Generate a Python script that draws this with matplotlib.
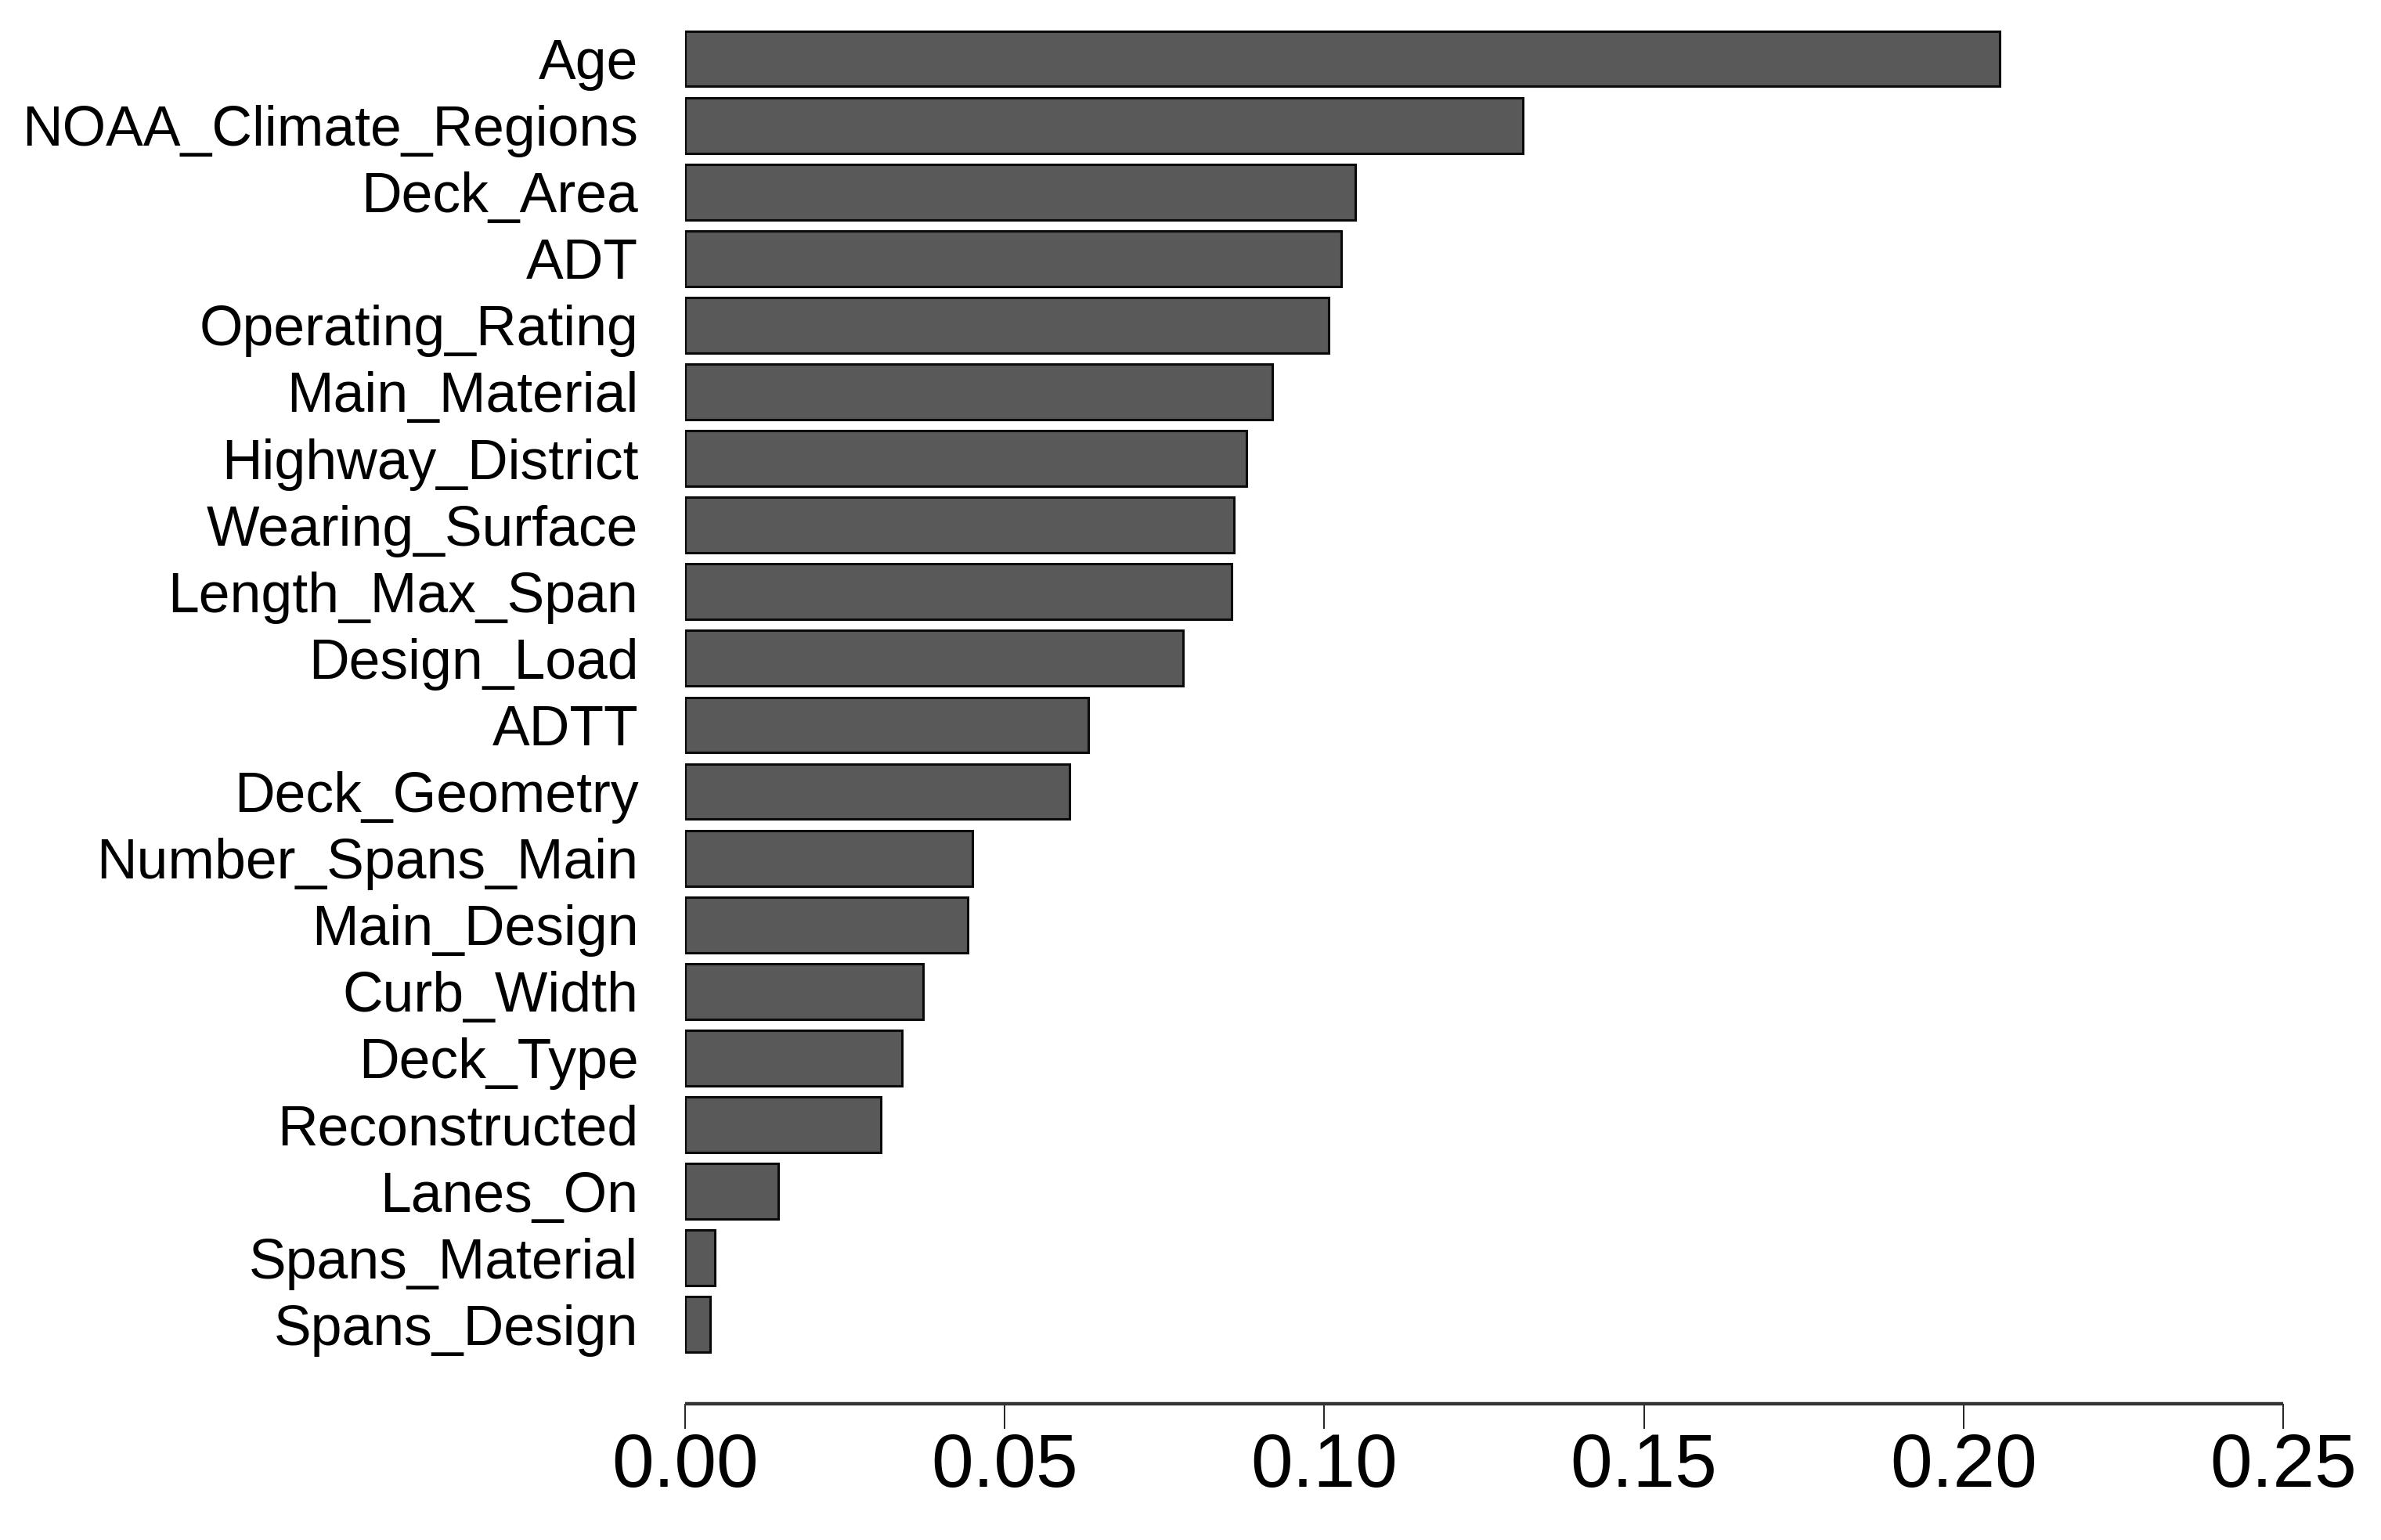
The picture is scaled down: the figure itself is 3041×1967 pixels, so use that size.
import matplotlib
matplotlib.use("Agg")
import matplotlib.pyplot as plt

features = ["Age", "NOAA_Climate_Regions", "Deck_Area", "ADT", "Operating_Rating",
            "Main_Material", "Highway_District", "Wearing_Surface", "Length_Max_Span",
            "Design_Load", "ADTT", "Deck_Geometry", "Number_Spans_Main", "Main_Design",
            "Curb_Width", "Deck_Type", "Reconstructed", "Lanes_On", "Spans_Material",
            "Spans_Design"]
importance = [0.2057, 0.1311, 0.1049, 0.1026, 0.1007, 0.0919, 0.0878, 0.0859, 0.0855,
              0.0779, 0.0631, 0.0601, 0.0450, 0.0442, 0.0372, 0.0339, 0.0306, 0.0146,
              0.0047, 0.0039]
xticks = [0.00, 0.05, 0.10, 0.15, 0.20, 0.25]
xtick_labels = ["0.00", "0.05", "0.10", "0.15", "0.20", "0.25"]

plt.rcParams['font.family'] = ['Liberation Sans', 'DejaVu Sans']

W, H = 3041, 1967
fig = plt.figure(figsize=(W / 100, H / 100), dpi=100)
left = 875 / W
right = 2916 / W
bottom = 1 - 1793 / H
top = 1 - 24 / H
ax = fig.add_axes([left, bottom, right - left, top - bottom])

pos = list(range(len(features)))
ax.barh(pos, importance, height=0.833, color="#595959", edgecolor="#0a0a0a",
        linewidth=2.2)

ax.set_xlim(0, 0.25)
ax.set_ylim(20.19, -0.6)
ax.set_yticks(pos)
ax.set_yticklabels(features, fontsize=51.5)
ax.tick_params(axis='y', length=0, pad=43)
ax.set_xticks(xticks)
ax.set_xticklabels(xtick_labels, fontsize=69.5)
ax.tick_params(axis='x', length=23, width=1.3, pad=3, direction='out', color="#111111")

for s in ["top", "right", "left"]:
    ax.spines[s].set_visible(False)
ax.spines["bottom"].set_linewidth(3.2)
ax.spines["bottom"].set_color("#333333")
ax.spines["bottom"].set_capstyle("butt")

fig.savefig("out.png", dpi=100, facecolor="white")
